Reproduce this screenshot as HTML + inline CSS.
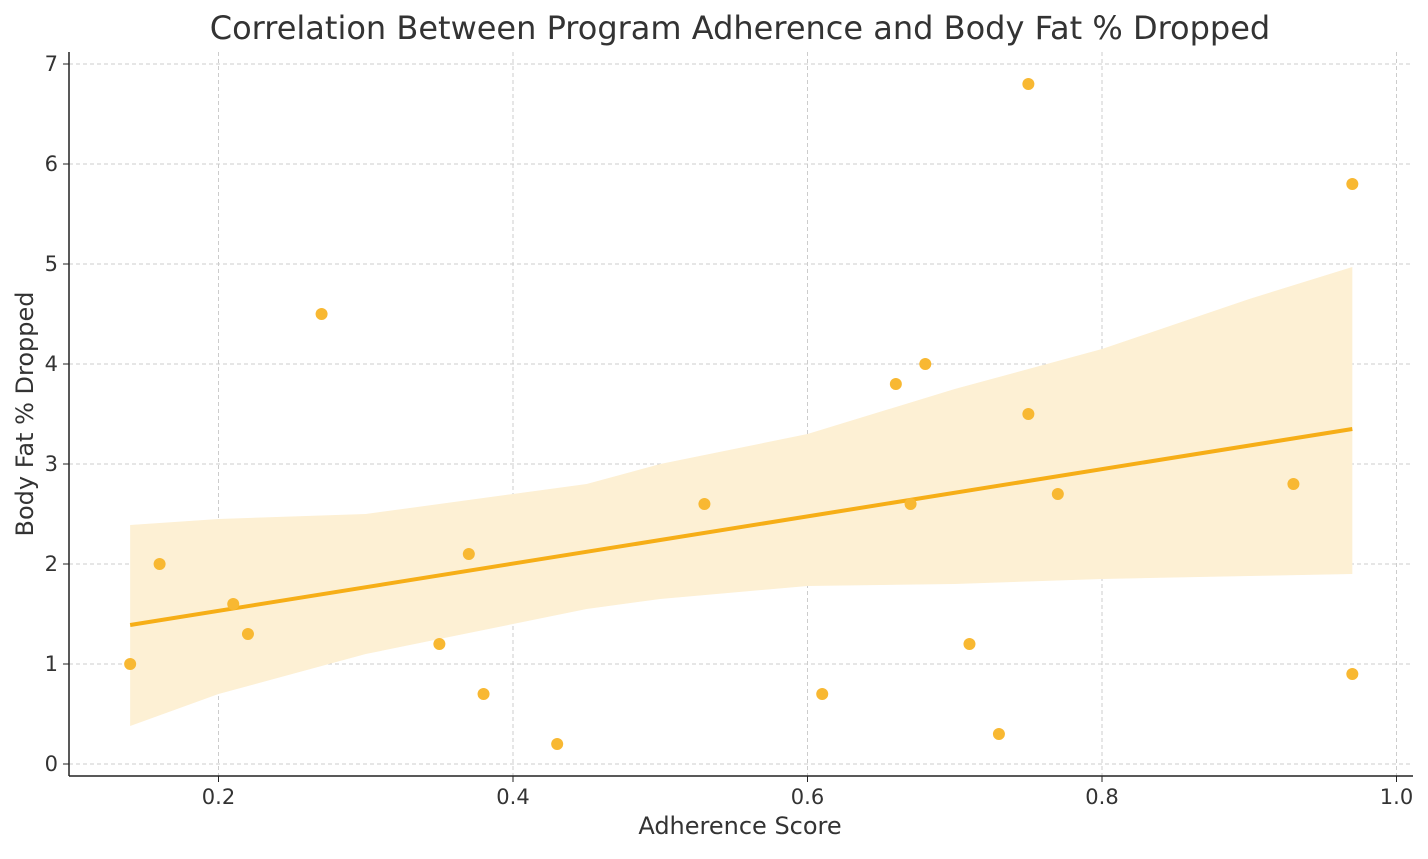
<!DOCTYPE html>
<html><head><meta charset="utf-8"><style>
body{margin:0;background:#fff;}
svg text{font-family:"DejaVu Sans","Liberation Sans",sans-serif;fill:#333;}
</style></head><body>
<svg id="chart" width="1428" height="854" xmlns="http://www.w3.org/2000/svg">
<rect width="1428" height="854" fill="#fff"/>
<text x="740" y="39" font-size="32" text-anchor="middle">Correlation Between Program Adherence and Body Fat % Dropped</text>
<text x="740" y="834" font-size="24" text-anchor="middle">Adherence Score</text>
<text transform="translate(33,414) rotate(-90)" font-size="24" text-anchor="middle">Body Fat % Dropped</text>
<g id="grid"></g><g id="band"></g><g id="line"></g><g id="pts"></g><g id="axes"></g>
</svg>
<script>
const xs=[0.14,0.16,0.21,0.22,0.27,0.35,0.37,0.38,0.43,0.53,0.61,0.66,0.67,0.68,0.71,0.73,0.75,0.75,0.77,0.93,0.97,0.97];
const ys=[1.0,2.0,1.6,1.3,4.5,1.2,2.1,0.7,0.2,2.6,0.7,3.8,2.6,4.0,1.2,0.3,6.8,3.5,2.7,2.8,5.8,0.9];
const fitX=[0.14,0.97];
const fitY=[1.39,3.35];
const bandX=[0.14,0.2,0.3,0.4,0.45,0.5,0.6,0.7,0.8,0.9,0.97];
const bandLo=[0.38,0.7,1.1,1.4,1.55,1.65,1.78,1.8,1.85,1.88,1.9];
const bandHi=[2.39,2.45,2.5,2.7,2.8,3.0,3.3,3.75,4.15,4.65,4.97];
const xTicks=[0.2,0.4,0.6,0.8,1.0];
const yTicks=[0,1,2,3,4,5,6,7];
const X=v=>218.5+(v-0.2)*1472.5, Y=v=>764-v*100;
const NS="http://www.w3.org/2000/svg";
function mk(p,t,a){const e=document.createElementNS(NS,t);for(const k in a)e.setAttribute(k,a[k]);document.getElementById(p).appendChild(e);return e;}
xTicks.forEach(v=>{
 const g=mk('grid','line',{x1:X(v),x2:X(v),y1:52,y2:776,stroke:'#ccc','stroke-dasharray':'4,3'});
 
 
 mk('axes','line',{x1:X(v),x2:X(v),y1:776,y2:782,stroke:'#222'});
 const t=mk('axes','text',{x:X(v),y:804,'font-size':21,'text-anchor':'middle'});t.textContent=v.toFixed(1);
 
 
});
yTicks.forEach(v=>{
 const g=mk('grid','line',{x1:69,x2:1413,y1:Y(v),y2:Y(v),stroke:'#ccc','stroke-dasharray':'4,3'});
 
 
 mk('axes','line',{x1:63,x2:69,y1:Y(v),y2:Y(v),stroke:'#222'});
 const t=mk('axes','text',{x:58,y:Y(v)+7,'font-size':21,'text-anchor':'end'});t.textContent=v;
 
 
});
const l1=mk('axes','line',{x1:69,x2:69,y1:52,y2:776,stroke:'#222','stroke-width':1.5});


const l2=mk('axes','line',{x1:69,x2:1413,y1:776,y2:776,stroke:'#222','stroke-width':1.5});


let d='M'+bandX.map((x,i)=>X(x)+','+Y(bandHi[i])).join('L');
for(let i=bandX.length-1;i>=0;i--)d+='L'+X(bandX[i])+','+Y(bandLo[i]);
const b=mk('band','path',{d:d+'Z',fill:'#fdf0d4'});


const rl=mk('line','line',{x1:X(fitX[0]),y1:Y(fitY[0]),x2:X(fitX[1]),y2:Y(fitY[1]),stroke:'#f6ae17','stroke-width':4});


xs.forEach((x,i)=>{
 const c=mk('pts','circle',{cx:X(x),cy:Y(ys[i]),r:6,fill:'#f8b832'});
 
 
});
</script>
</body></html>
